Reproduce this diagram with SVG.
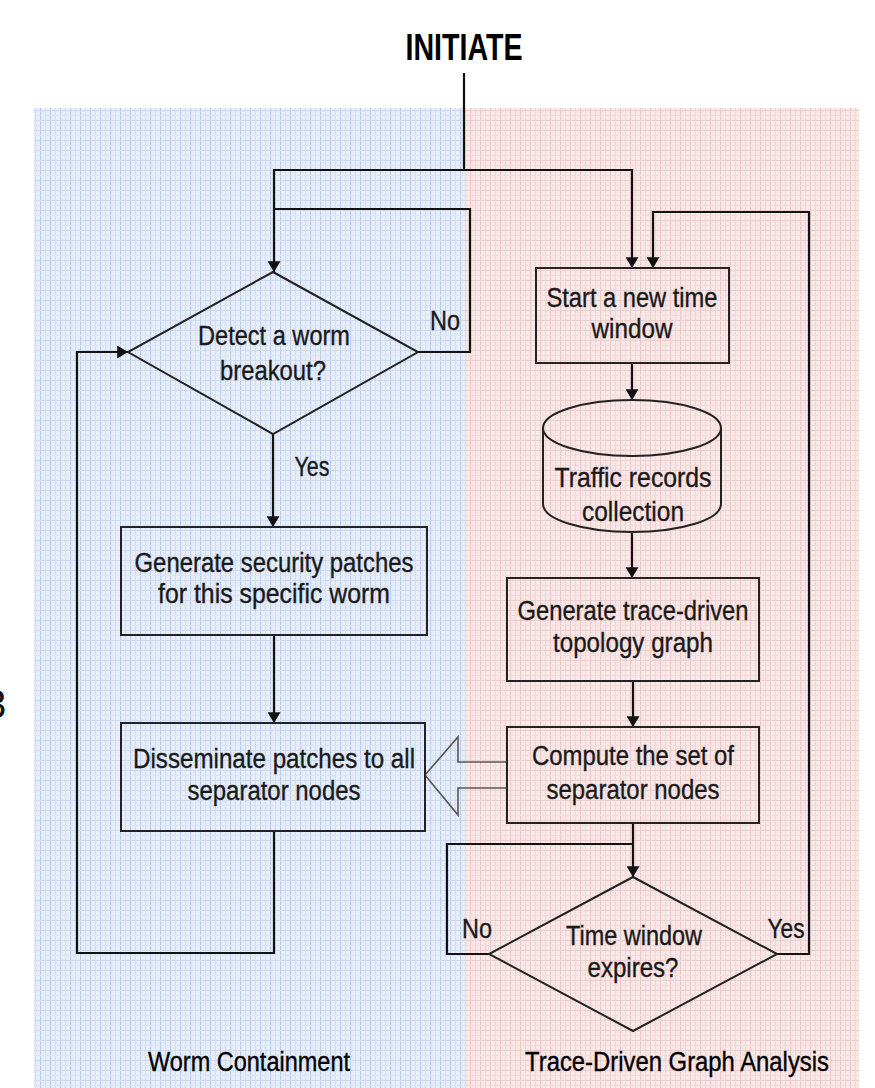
<svg xmlns="http://www.w3.org/2000/svg" width="875" height="1088" viewBox="0 0 875 1088">
<defs>
<pattern id="pb" patternUnits="userSpaceOnUse" width="10" height="10">
<rect width="10" height="10" fill="#e7eef9"/>
<line x1="0.5" y1="0" x2="0.5" y2="10" stroke="#b8ccec" stroke-width="1.2"/>
<line x1="5.5" y1="0" x2="5.5" y2="10" stroke="#cfdcf2" stroke-width="1"/>
<line x1="0" y1="0.5" x2="10" y2="0.5" stroke="#cddbf2" stroke-width="1"/>
<line x1="0" y1="5.5" x2="10" y2="5.5" stroke="#dae4f6" stroke-width="1"/>
</pattern>
<pattern id="pp" patternUnits="userSpaceOnUse" width="10" height="10">
<rect width="10" height="10" fill="#f9e8e8"/>
<line x1="0.5" y1="0" x2="0.5" y2="10" stroke="#edc6c6" stroke-width="1.2"/>
<line x1="5.5" y1="0" x2="5.5" y2="10" stroke="#f2d4d4" stroke-width="1"/>
<line x1="0" y1="0.5" x2="10" y2="0.5" stroke="#eecdcd" stroke-width="1"/>
<line x1="0" y1="5.5" x2="10" y2="5.5" stroke="#f4dbdb" stroke-width="1"/>
</pattern>
<marker id="ah" viewBox="0 0 10 12" refX="10" refY="6" markerWidth="11" markerHeight="13" markerUnits="userSpaceOnUse" orient="auto">
<path d="M0,0 L10,6 L0,12 Z" fill="#111"/>
</marker>
<style>
.t{font-family:"Liberation Sans",Arial,sans-serif;font-size:27px;fill:#1a1a1a;stroke:#1a1a1a;stroke-width:0.35;text-anchor:middle}
.b{fill:none;stroke:#222;stroke-width:2}
.c{fill:none;stroke:#111;stroke-width:2.2}
.a{marker-end:url(#ah)}
</style>
</defs>
<rect x="0" y="0" width="875" height="1088" fill="#ffffff"/>
<g id="background">
<rect x="34" y="108" width="431" height="980" fill="url(#pb)"/>
<rect x="465" y="108" width="394" height="980" fill="url(#pp)"/>
</g>
<text x="-16" y="718" style="font-family:'Liberation Sans',Arial,sans-serif;font-size:40px;fill:#111">3</text>
<g id="connectors">
<polyline class="c" points="464,73 464,170"/>
<polyline class="c a" points="464,170 274,170 274,272"/>
<polyline class="c a" points="464,170 632,170 632,268"/>
<polyline class="c" points="418,352 470,352 470,209 274,209"/>
<polyline class="c a" points="273,434 273,527"/>
<polyline class="c a" points="274,635 274,723"/>
<polyline class="c a" points="274,831 274,953 77,953 77,352 128,352"/>
<polyline class="c a" points="632,363 632,400"/>
<polyline class="c a" points="632,532 632,578"/>
<polyline class="c a" points="633,681 633,727"/>
<polyline class="c a" points="633,823 633,877"/>
<polyline class="c" points="489,954 447,954 447,844 633,844"/>
<polyline class="c a" points="777,954 809,954 809,212 653,212 653,268"/>
<polygon points="507,762 458,762 458,737 425,775 458,815 458,788 507,788" fill="none" stroke="#555" stroke-width="1.6"/>
<text class="t" x="445" y="330" textLength="30" lengthAdjust="spacingAndGlyphs">No</text>
<text class="t" x="312" y="476" textLength="35" lengthAdjust="spacingAndGlyphs">Yes</text>
<text class="t" x="477" y="938" textLength="30" lengthAdjust="spacingAndGlyphs">No</text>
<text class="t" x="786" y="938" textLength="37" lengthAdjust="spacingAndGlyphs">Yes</text>
</g>
<g id="initiate">
<text x="464" y="60" text-anchor="middle" textLength="117" lengthAdjust="spacingAndGlyphs" style="font-family:'Liberation Sans',Arial,sans-serif;font-size:37px;font-weight:bold;fill:#000">INITIATE</text>
</g>
<g id="detect">
<polygon class="b" points="273,272 418,352 273,434 128,352"/>
<text class="t" x="274" y="345" textLength="152" lengthAdjust="spacingAndGlyphs">Detect a worm</text>
<text class="t" x="273" y="380" textLength="106" lengthAdjust="spacingAndGlyphs">breakout?</text>
</g>
<g id="gen-patches">
<rect class="b" x="121" y="527" width="306" height="108"/>
<text class="t" x="274" y="572" textLength="279" lengthAdjust="spacingAndGlyphs">Generate security patches</text>
<text class="t" x="274" y="603" textLength="232" lengthAdjust="spacingAndGlyphs">for this specific worm</text>
</g>
<g id="disseminate">
<rect class="b" x="121" y="723" width="304" height="108"/>
<text class="t" x="274" y="768" textLength="282" lengthAdjust="spacingAndGlyphs">Disseminate patches to all</text>
<text class="t" x="274" y="800" textLength="173" lengthAdjust="spacingAndGlyphs">separator nodes</text>
</g>
<g id="start-window">
<rect class="b" x="536" y="268" width="193" height="95"/>
<text class="t" x="632" y="307" textLength="171" lengthAdjust="spacingAndGlyphs">Start a new time</text>
<text class="t" x="632" y="338" textLength="81" lengthAdjust="spacingAndGlyphs">window</text>
</g>
<g id="traffic">
<path class="b" d="M543,428 L543,504 A89,28 0 0 0 721,504 L721,428"/>
<ellipse class="b" cx="632" cy="428" rx="89" ry="28"/>
<text class="t" x="633" y="487" textLength="157" lengthAdjust="spacingAndGlyphs">Traffic records</text>
<text class="t" x="633" y="521" textLength="102" lengthAdjust="spacingAndGlyphs">collection</text>
</g>
<g id="gen-graph">
<rect class="b" x="507" y="578" width="252" height="103"/>
<text class="t" x="633" y="620" textLength="231" lengthAdjust="spacingAndGlyphs">Generate trace-driven</text>
<text class="t" x="633" y="652" textLength="160" lengthAdjust="spacingAndGlyphs">topology graph</text>
</g>
<g id="compute">
<rect class="b" x="507" y="727" width="252" height="96"/>
<text class="t" x="633" y="765" textLength="202" lengthAdjust="spacingAndGlyphs">Compute the set of</text>
<text class="t" x="633" y="799" textLength="173" lengthAdjust="spacingAndGlyphs">separator nodes</text>
</g>
<g id="expires">
<polygon class="b" points="633,877 777,954 633,1031 489,954"/>
<text class="t" x="634" y="945" textLength="136" lengthAdjust="spacingAndGlyphs">Time window</text>
<text class="t" x="633" y="977" textLength="91" lengthAdjust="spacingAndGlyphs">expires?</text>
</g>
<g id="labels">
<text class="t" x="249" y="1071" textLength="202" lengthAdjust="spacingAndGlyphs" style="fill:#000;stroke:#000">Worm Containment</text>
<text class="t" x="677" y="1071" textLength="304" lengthAdjust="spacingAndGlyphs" style="fill:#000;stroke:#000">Trace-Driven Graph Analysis</text>
</g>
</svg>
